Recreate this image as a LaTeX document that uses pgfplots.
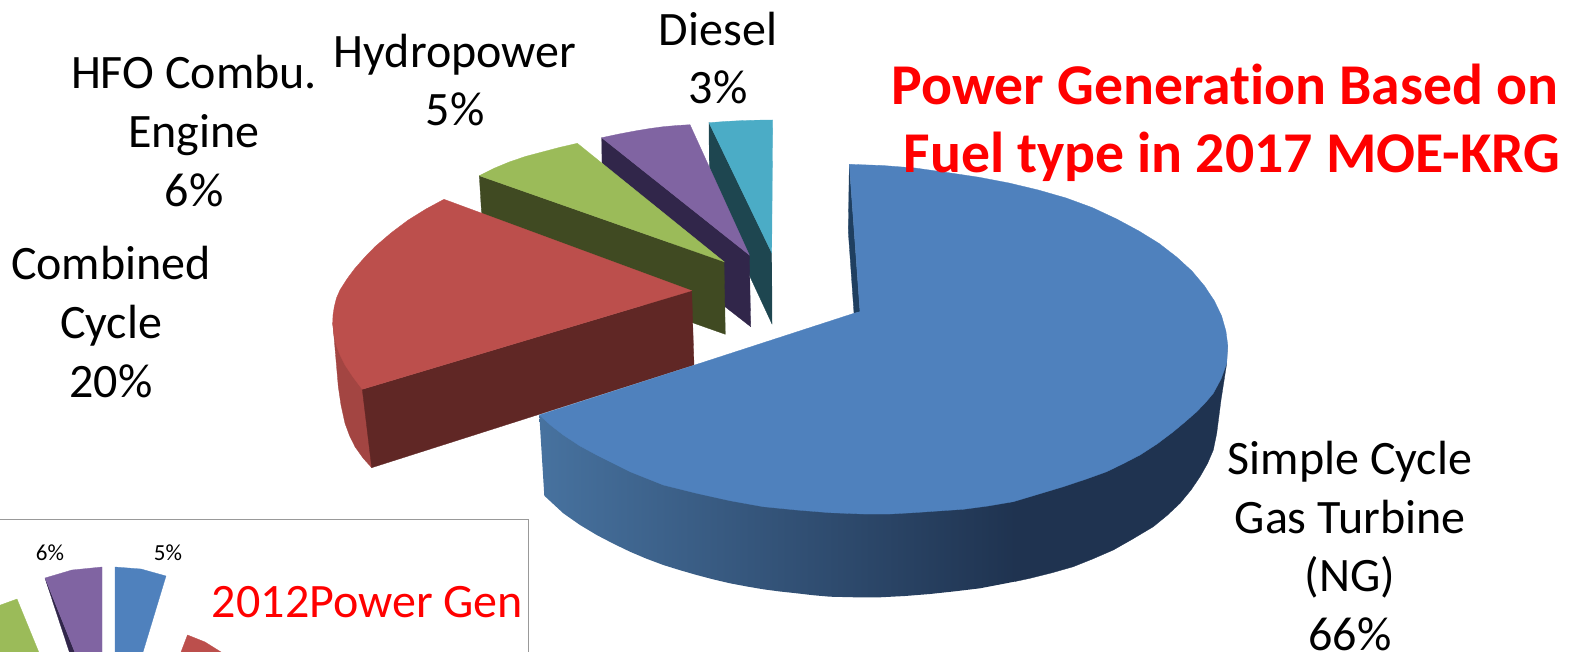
\documentclass[border=0pt]{standalone}
\usepackage{fontspec}
\setmainfont{Carlito}[Ligatures=NoCommon]
\usepackage{pgfplots}
\pgfplotsset{compat=1.18}
\definecolor{bluetop}{HTML}{4F81BD}
\definecolor{blueL}{HTML}{47729F}
\definecolor{blueD}{HTML}{1F3350}
\definecolor{bluein}{HTML}{1F3F60}
\definecolor{redtop}{HTML}{BC4F4C}
\definecolor{redD}{HTML}{602725}
\definecolor{redS}{HTML}{A34542}
\definecolor{greentop}{HTML}{9BBB59}
\definecolor{greenD}{HTML}{404A22}
\definecolor{purptop}{HTML}{8064A2}
\definecolor{purpD}{HTML}{31264A}
\definecolor{tealtop}{HTML}{4BACC6}
\definecolor{tealD}{HTML}{1E4650}
\newcommand{\lab}{\fontsize{48}{58.6}\selectfont}
\newcommand{\ttl}{\fontsize{57.7}{68}\selectfont\bfseries}
\begin{document}
\begin{tikzpicture}
\begin{axis}[scale only axis, width=1577pt, height=652pt, ticks=none, axis line style={draw=none},
  xmin=0, xmax=1577, ymin=0, ymax=652, y dir=reverse,
  every axis plot/.append style={line width=0.3pt}]
% teal
\addplot[fill=tealD,draw=tealD] coordinates {(709,122.7)(771.7,252.7)(772,324)(750,276.7)(709.3,170)} --cycle;
\addplot[fill=tealtop,draw=tealtop] coordinates {(709,122.7)(725,121.5)(740,120.7)(756,120.2)(772.7,120)(771.7,252.7)} --cycle;
% purple
\addplot[fill=purpD,draw=purpD] coordinates {(601.7,137.7)(749.3,255)(750.7,326.7)(725,306.7)(602,163)} --cycle;
\addplot[fill=purptop,draw=purptop] coordinates {(601.7,137.7)(619,134)(636.7,130.7)(650,128.5)(663.3,126.7)(677,125.5)(690,124.7)(749.3,255)} --cycle;
% green
\addplot[fill=greenD,draw=greenD] coordinates {(479.3,175.7)(724,261.7)(725.3,334.3)(600,290)(481.7,215)} --cycle;
\addplot[fill=greentop,draw=greentop] coordinates {(479.3,175.7)(494,168.3)(510,161.7)(526,156.3)(543.3,151.7)(560,147.3)(577.3,143.3)(724,261.7)} --cycle;
% red
\addplot[fill=redS,draw=redS] coordinates {(332.7,323.3)(334.3,340)(338.3,386.7)(341,405)(345,423.3)(349.5,435.5)(355,446.7)(363,458)(371.7,467.7)(380,400)(362.3,389.3)} --cycle;
\addplot[fill=redD,draw=redD] coordinates {(362.3,389.3)(691.7,290.7)(694,365)(371.7,467.7)} --cycle;
\addplot[fill=redtop,draw=redtop] coordinates {(444,199.3)(426,209)(408.3,220)(391,233)(375,246.7)(365,257)(355,268.3)(347,279)(340,290)(336.5,298)(334.3,306.7)(333,315)(332.7,323.3)(334,335)(336.7,346.7)(340.5,356)(345,365)(353,377)(362.3,389.3)(691.7,290.7)} --cycle;
% blue
\addplot[fill=bluein,draw=bluein] coordinates {(849.3,164.3)(848.3,231.7)(854,313.3)(860,311.7)} --cycle;
\addplot[draw=none,left color=blueL,right color=blueD] coordinates {(539.3,415)(544.3,495.7)(563.3,513.3)(580,525)(596.7,535)(613,543.5)(630,551.7)(646,558.5)(663.3,565)(680,570.2)(696.7,575)(713,579.3)(730,583.3)(747,586.5)(763.3,589.3)(780,591.5)(796.7,593.3)(813,595.2)(830,596.7)(855,597.3)(880,597.3)(905,596)(930,594)(955,591.3)(980,588.3)(1005,583.5)(1015,581.5)(1015,460)} --cycle;
\addplot[fill=blueD,draw=blueD] coordinates {(1015,460)(1015,581.5)(1030,578.3)(1052,572.8)(1073.3,566.7)(1093,558.8)(1113.3,550)(1133,538.8)(1153.3,526.7)(1167,515.5)(1180,503.3)(1191,490)(1200,476.7)(1207.5,463.5)(1213.3,450)(1216.7,433.3)(1221,400)(1226.7,363.3)(1227.3,345)(1015,300)} --cycle;
\addplot[fill=bluetop,draw=bluetop] coordinates {(849.3,164.3)(882.3,165.5)(914.9,168)(947.1,172.5)(978.6,177.2)(1009,183)(1038.3,190)(1066.1,198)(1092.3,207.6)(1116.6,219)(1138.9,231)(1159,243.4)(1176.6,257)(1191.9,271)(1204.5,286)(1214.4,301)(1221.6,316)(1225.9,331)(1227.7,345)(1226.7,363.3)(1221,379)(1213.3,393.3)(1205.5,402.5)(1196.7,411.7)(1185.5,421.5)(1173.3,431.7)(1157,444)(1140,455)(1123.5,463.5)(1106.7,471.7)(1085,479.5)(1063.3,486.7)(1038,494.3)(1013.3,501.7)(988,506)(963.3,509.3)(938,511)(913.3,512.7)(890,514)(863.3,514)(830,512.7)(796.7,510)(763.3,506.7)(730,500.7)(696.7,493.3)(663.3,485)(630,471.7)(596.7,455)(580,446)(563.3,435)(551,425.5)(539.3,415)(693,365.6)(854,313.3)(860,311.7)} --cycle;
% inset
\addplot[draw=black!40,line width=1pt] coordinates {(-5,519)(528,519)(528,660)};
\addplot[fill=bluetop,draw=bluetop] coordinates {(115,567)(141,569)(166,576)(143,652)(141,660)(115,660)} --cycle;
\addplot[fill=purpD,draw=purpD] coordinates {(45,578)(72,660)(78,660)} --cycle;
\addplot[fill=purptop,draw=purptop] coordinates {(102,567)(72,570)(45,578)(48,585)(78,660)(102,660)} --cycle;
\addplot[fill=greentop,draw=greentop] coordinates {(17,599)(-5,607)(-5,660)(42,660)} --cycle;
\addplot[fill=redtop,draw=redtop] coordinates {(187.5,635)(205,642)(221,652)(232,660)(178,660)} --cycle;
% text
\node[anchor=center,font=\fontsize{23}{27}\selectfont] at (axis cs:50,553) {6\%};
\node[anchor=center,font=\fontsize{23}{27}\selectfont] at (axis cs:168,553) {5\%};
\node[anchor=center,text=red,font=\fontsize{48}{58}\selectfont] at (axis cs:367.5,602) {2012Power Gen};
\node[anchor=center,align=center,font=\lab] at (axis cs:718,58) {Diesel\\3\%};
\node[anchor=center,align=center,font=\lab] at (axis cs:455,80) {Hydropower\\5\%};
\node[anchor=center,align=center,font=\lab] at (axis cs:194,131) {HFO Combu.\\Engine\\6\%};
\node[anchor=center,align=center,font=\lab] at (axis cs:111,322) {Combined\\Cycle\\20\%};
\node[anchor=center,align=center,font=\lab] at (axis cs:1350,546) {Simple Cycle\\Gas Turbine\\(NG)\\66\%};
\node[anchor=center,text=red,font=\ttl] at (axis cs:1225,84.5) {Power Generation Based on};
\node[anchor=center,text=red,font=\ttl] at (axis cs:1232,156.5) {Fuel type in 2017 MOE-KRG};
\end{axis}
\end{tikzpicture}
\end{document}
